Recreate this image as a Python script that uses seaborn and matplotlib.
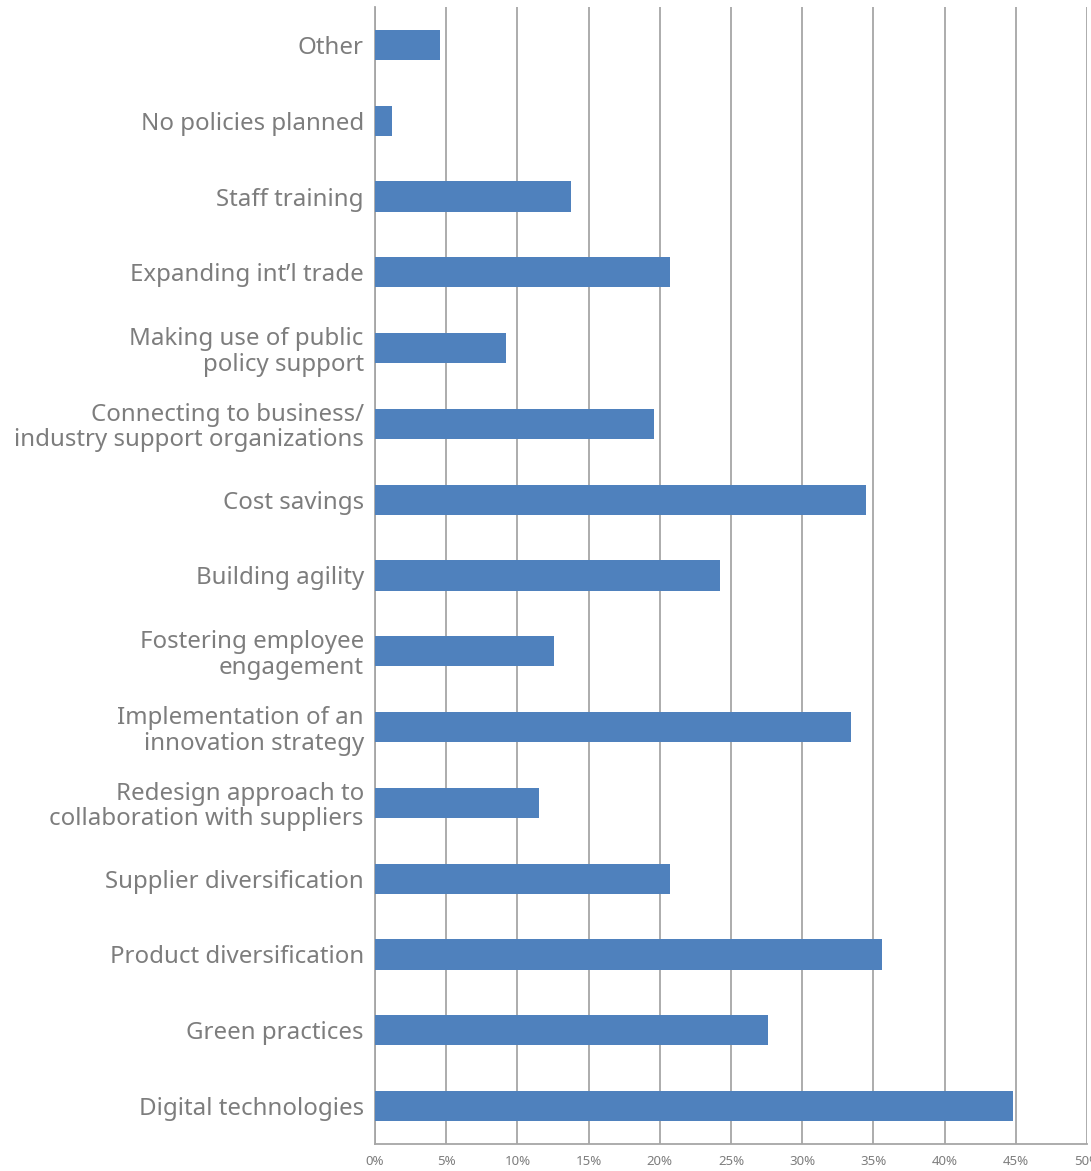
import matplotlib
matplotlib.use("Agg")
import matplotlib.pyplot as plt
from matplotlib.ticker import FixedLocator, PercentFormatter
import numpy as np
import pandas as pd
import seaborn as sns

categories = [
    "Other",
    "No policies planned",
    "Staff training",
    "Expanding int\u2019l trade",
    "Making use of public\npolicy support",
    "Connecting to business/\nindustry support organizations",
    "Cost savings",
    "Building agility",
    "Fostering employee\nengagement",
    "Implementation of an\ninnovation strategy",
    "Redesign approach to\ncollaboration with suppliers",
    "Supplier diversification",
    "Product diversification",
    "Green practices",
    "Digital technologies",
]
shares = [4.6, 1.2, 13.8, 20.7, 9.2, 19.6, 34.5, 24.2, 12.6, 33.4, 11.5, 20.7, 35.6, 27.6, 44.8]
x_ticks = [0, 5, 10, 15, 20, 25, 30, 35, 40, 45, 50]

df = pd.DataFrame({"category": categories, "share": shares})

sns.set_theme(style="white")
plt.rcParams["font.family"] = ["Noto Sans", "DejaVu Sans"]

text_grey = "#7d7d7d"
grid_grey = "#a6a6a6"
bar_blue = "#4F81BD"

fig = plt.figure(figsize=(10.91, 11.71), dpi=100)
ax = fig.add_axes([0.3437, 0.0231, 0.6526, 0.9709])

sns.barplot(data=df, x="share", y="category", order=categories, orient="h",
            color=bar_blue, width=0.4, saturation=1, linewidth=0,
            ax=ax, zorder=3)

ax.set_xlim(0, 50)
ax.set_ylim(len(categories) - 0.5, -0.5)
ax.xaxis.set_major_locator(FixedLocator(x_ticks))
ax.xaxis.set_major_formatter(PercentFormatter(decimals=0))
ax.grid(axis="x", color=grid_grey, linewidth=1.3, zorder=0)
ax.grid(axis="y", visible=False)

ax.set_xlabel("")
ax.set_ylabel("")

for side in ("top", "right"):
    ax.spines[side].set_visible(False)
for side in ("left", "bottom"):
    ax.spines[side].set_color(grid_grey)
    ax.spines[side].set_linewidth(1.3)

ax.tick_params(axis="x", length=0, labelsize=9.5, labelcolor=text_grey, pad=8)
ax.tick_params(axis="y", which="major", length=0, labelsize=17.3, labelcolor=text_grey, pad=8)
ax.yaxis.set_minor_locator(FixedLocator(np.arange(-0.5, len(categories), 1.0)))
ax.tick_params(axis="y", which="minor", length=4, width=1.0, color=grid_grey, direction="out")

for lbl in ax.get_yticklabels():
    lbl.set_linespacing(1.08)
    lbl.set_horizontalalignment("right")
    lbl.set_multialignment("right")

fig.savefig("out.png", dpi=100)
